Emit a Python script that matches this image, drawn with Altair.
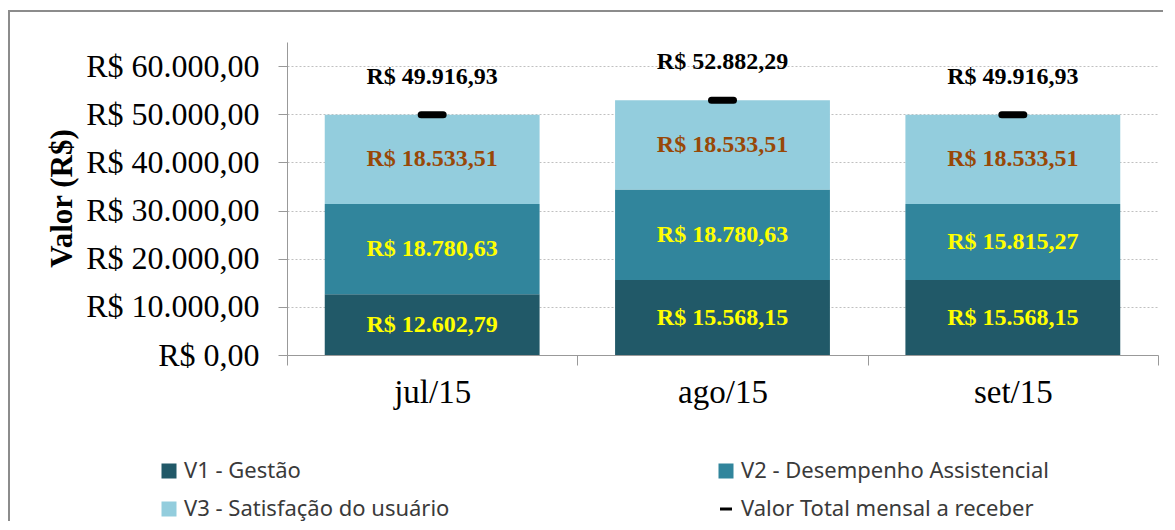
import altair as alt
import pandas as pd

months = ["jul/15", "ago/15", "set/15"]
series = ["V1 - Gestão", "V2 - Desempenho Assistencial", "V3 - Satisfação do usuário"]
total_name = "Valor Total mensal a receber"
v1 = [12602.79, 15568.15, 15568.15]
v2 = [18780.63, 18780.63, 15815.27]
v3 = [18533.51, 18533.51, 18533.51]
totals = [49916.93, 52882.29, 49916.93]
y_ticks = [0, 10000, 20000, 30000, 40000, 50000, 60000]

bar_colors = ["#215968", "#31859C", "#93CDDD"]
label_colors = ["#FFFF00", "#FFFF00", "#984807"]


def brl(v):
    s = f"{v:,.2f}".replace(",", "_").replace(".", ",").replace("_", ".")
    return "R$ " + s


rows = []
for i, m in enumerate(months):
    base = 0.0
    for j, (name, vals) in enumerate(zip(series, [v1, v2, v3])):
        val = vals[i]
        rows.append(dict(month=m, serie=name, ord=j, value=val, mid=base + val / 2,
                         label=brl(val), tc=label_colors[j]))
        base += val
seg = pd.DataFrame(rows)
tot = pd.DataFrame(dict(month=months, serie=[total_name] * 3, total=totals,
                        label=[brl(t) for t in totals]))

legend_domain = series + [total_name]
fill_scale = alt.Scale(domain=legend_domain, range=bar_colors + ["#000000"])
shape_scale = alt.Scale(domain=legend_domain, range=["square", "square", "square", "stroke"])

SERIF = "Liberation Serif"

x_main = alt.X(
    "month:N", sort=months, title=None,
    scale=alt.Scale(paddingInner=0, paddingOuter=0),
    axis=alt.Axis(labelAngle=0, tickBand="extent", ticks=True, tickSize=10,
                  tickColor="#999999", domainColor="#999999", labelFont=SERIF,
                  labelFontSize=33, labelColor="#000000", labelPadding=11, grid=False),
)

y_scale = alt.Scale(domain=[0, 65000], nice=False)
label_expr = ("'R$ ' + replace(replace(replace(format(datum.value, ',.2f'), ',', '#'), "
              "'.', ','), '#', '.')")
y_main = alt.Y(
    "value:Q", stack="zero", scale=y_scale, title="Valor (R$)",
    axis=alt.Axis(values=y_ticks, labelExpr=label_expr, labelFont=SERIF, labelFontSize=32,
                  labelColor="#000000", labelPadding=19, tickSize=9, tickColor="#999999",
                  domainColor="#999999", grid=True, gridColor="#c0c0c0", gridDash=[2, 2],
                  titleFont=SERIF, titleFontSize=31, titleFontWeight="bold",
                  titleColor="#000000", titleX=-225, titleY=156, titleAngle=-90,
                  titleAlign="center", titleBaseline="middle"),
)

leg = alt.Legend(
    title=None, orient="none", direction="horizontal", legendX=-129, legendY=418,
    columns=2, columnPadding=264, rowPadding=14, labelFont="Noto Sans", labelFontSize=22,
    labelColor="#3a3a3a", symbolSize=144, symbolStrokeWidth=3, labelOffset=4,
    symbolOpacity=1, labelLimit=600,
)

frame = alt.Chart(pd.DataFrame({"f": [0]})).mark_rect(
    fill="transparent", stroke="#8c8c8c", strokeWidth=2
).encode(x=alt.value(-278), x2=alt.value(930), y=alt.value(-31), y2=alt.value(620))

bars = alt.Chart(seg).mark_bar(width=alt.RelativeBandSize(0.74)).encode(
    x=x_main,
    y=y_main,
    color=alt.Color("serie:N", scale=fill_scale, legend=leg),
    order=alt.Order("ord:Q", sort="ascending"),
)

marker = alt.Chart(tot).mark_point(
    filled=True, size=484, strokeWidth=7, strokeCap="round", opacity=1
).encode(
    x=alt.X("month:N", sort=months),
    y=alt.Y("total:Q", scale=y_scale),
    fill=alt.Fill("serie:N", scale=fill_scale, legend=leg),
    stroke=alt.Stroke("serie:N", scale=fill_scale, legend=leg),
    shape=alt.Shape("serie:N", scale=shape_scale, legend=leg),
)

seg_text = alt.Chart(seg).mark_text(
    font=SERIF, fontSize=24, fontWeight="bold", baseline="middle"
).encode(
    x=alt.X("month:N", sort=months),
    y=alt.Y("mid:Q", scale=y_scale),
    text="label:N",
    color=alt.Color("tc:N", scale=None),
)

tot_text = alt.Chart(tot).mark_text(
    font=SERIF, fontSize=24, fontWeight="bold", baseline="middle", dy=-38, color="#000000"
).encode(
    x=alt.X("month:N", sort=months),
    y=alt.Y("total:Q", scale=y_scale),
    text="label:N",
)

chart = alt.layer(frame, bars, marker, seg_text, tot_text).properties(
    width=871, height=313,
    padding={"left": 279, "top": 34, "right": 5, "bottom": 166},
    autosize=alt.AutoSizeParams(type="none"),
).configure_view(stroke=None)

chart.save("out.html", embed_options={"renderer": "svg", "actions": False})
